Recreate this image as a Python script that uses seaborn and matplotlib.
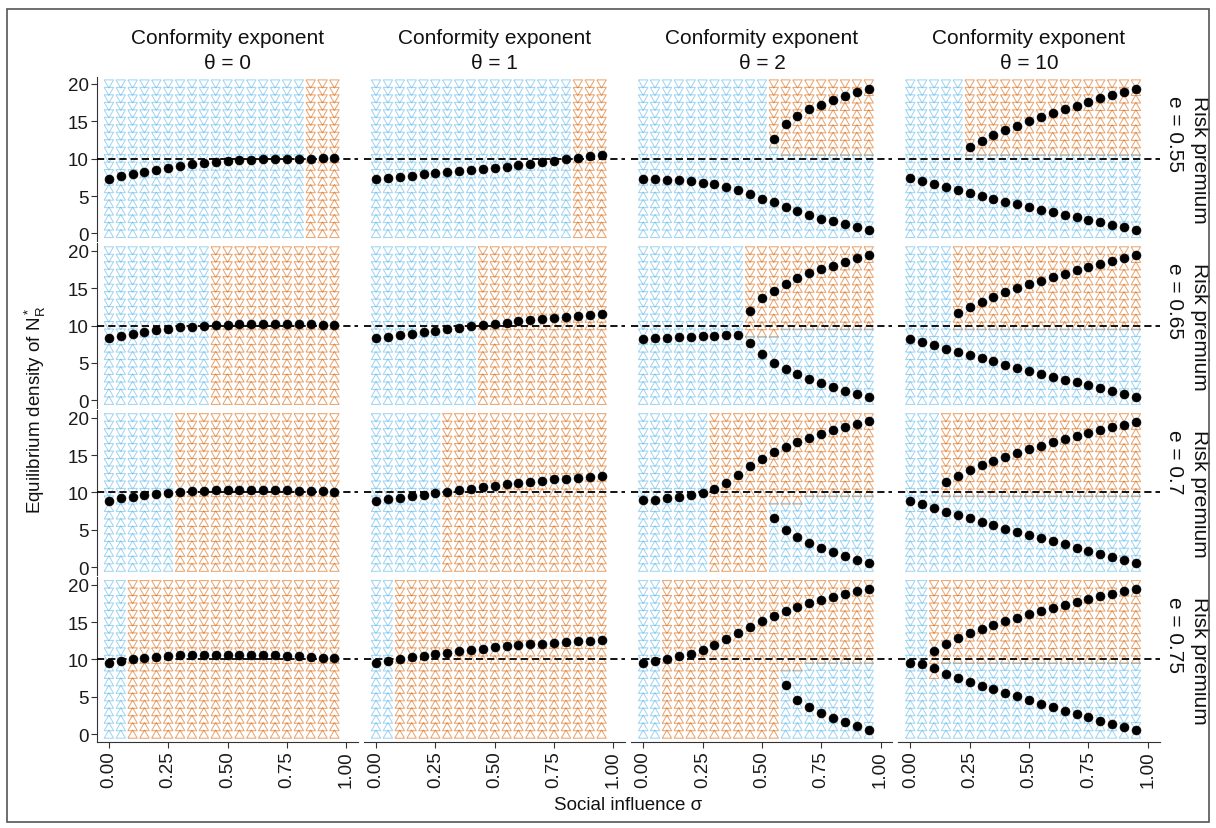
import numpy as np
import pandas as pd
import matplotlib
matplotlib.use('Agg')
import matplotlib.pyplot as plt
import seaborn as sns
from matplotlib.patches import Rectangle

# facets
thetas = [0, 1, 2, 10]
premiums = [0.55, 0.65, 0.7, 0.75]

# grid of the phase plot
sigmas = [0.00, 0.05, 0.10, 0.15, 0.20, 0.25, 0.30, 0.35, 0.40, 0.45,
          0.50, 0.55, 0.60, 0.65, 0.70, 0.75, 0.80, 0.85, 0.90, 0.95]
density_grid = list(range(0, 21))

x_ticks = [0, 0.25, 0.5, 0.75, 1.0]
x_tick_labels = ['0.00', '0.25', '0.50', '0.75', '1.00']
y_ticks = [0, 5, 10, 15, 20]
neutral_level = 10

NA = None

# stable equilibria (branch a = curve starting at sigma 0,
# branch b = second branch that appears), cut = unstable point between them
# theta = 0
eq_t0_e55 = [7.33, 7.69, 8.0, 8.27, 8.49, 8.71, 8.98, 9.24, 9.42, 9.56,
             9.69, 9.78, 9.86, 9.91, 9.95, 9.97, 9.99, 10.02, 10.03, 10.03]
eq_t0_e65 = [8.3, 8.6, 8.9, 9.2, 9.4, 9.6, 9.75, 9.85, 9.95, 10.05,
             10.1, 10.15, 10.2, 10.22, 10.22, 10.2, 10.18, 10.15, 10.1, 10.05]
eq_t0_e70 = [8.9, 9.2, 9.45, 9.65, 9.8, 9.95, 10.05, 10.15, 10.25, 10.3,
             10.35, 10.38, 10.38, 10.36, 10.34, 10.3, 10.25, 10.2, 10.15, 10.1]
eq_t0_e75 = [9.55, 9.8, 10.02, 10.2, 10.35, 10.45, 10.55, 10.6, 10.65, 10.65,
             10.65, 10.65, 10.62, 10.6, 10.55, 10.5, 10.42, 10.33, 10.22, 10.12]

# theta = 1
eq_t1_e55 = [7.35, 7.45, 7.6, 7.75, 7.9, 8.05, 8.2, 8.35, 8.5, 8.65,
             8.8, 8.95, 9.1, 9.3, 9.5, 9.7, 9.9, 10.1, 10.3, 10.45]
eq_t1_e65 = [8.3, 8.5, 8.7, 8.9, 9.1, 9.3, 9.5, 9.7, 9.9, 10.05,
             10.2, 10.4, 10.55, 10.7, 10.85, 11.0, 11.15, 11.3, 11.4, 11.5]
eq_t1_e70 = [8.9, 9.1, 9.3, 9.5, 9.7, 9.9, 10.1, 10.3, 10.5, 10.7,
             10.9, 11.1, 11.3, 11.45, 11.6, 11.75, 11.85, 11.95, 12.05, 12.15]
eq_t1_e75 = [9.55, 9.8, 10.05, 10.3, 10.5, 10.7, 10.9, 11.1, 11.3, 11.45,
             11.6, 11.75, 11.9, 12.0, 12.1, 12.2, 12.3, 12.4, 12.5, 12.6]

# theta = 2
eq_t2_e55 = [7.33, 7.25, 7.17, 7.1, 7.0, 6.8, 6.58, 6.22, 5.75, 5.25,
             4.65, 4.15, 3.5, 3.0, 2.5, 2.0, 1.6, 1.2, 0.8, 0.5]
eqb_t2_e55 = [NA, NA, NA, NA, NA, NA, NA, NA, NA, NA,
              NA, 12.67, 14.67, 15.73, 16.62, 17.2, 17.87, 18.4, 18.9, 19.38]
cut_t2_e55 = [NA] * 11 + [11.5] + [10.5] * 8

eq_t2_e65 = [8.18, 8.3, 8.35, 8.41, 8.47, 8.58, 8.64, 8.69, 8.75, 7.61,
             6.14, 5.06, 4.26, 3.47, 2.9, 2.33, 1.76, 1.31, 0.91, 0.45]
eqb_t2_e65 = [NA, NA, NA, NA, NA, NA, NA, NA, NA, 11.99,
              13.64, 14.66, 15.63, 16.31, 16.99, 17.56, 18.01, 18.52, 18.98, 19.38]
cut_t2_e65 = [NA] * 9 + [8.5] * 3 + [9.5] * 8

eq_t2_e70 = [8.93, 9.02, 9.24, 9.42, 9.69, 9.96, 10.49, 11.24, 12.4, 13.56,
             14.53, 15.38, 16.09, 16.76, 17.29, 17.87, 18.31, 18.76, 19.16, 19.51]
eqb_t2_e70 = [NA, NA, NA, NA, NA, NA, NA, NA, NA, NA,
              NA, 6.58, 4.98, 4.04, 3.24, 2.58, 2.0, 1.47, 1.02, 0.62]
cut_t2_e70 = [NA] * 11 + [8.5] * 3 + [9.5] * 6

eq_t2_e75 = [9.55, 9.77, 10.06, 10.4, 10.74, 11.31, 11.99, 12.73, 13.58, 14.38,
             15.17, 15.85, 16.48, 16.99, 17.5, 18.01, 18.41, 18.81, 19.15, 19.43]
eqb_t2_e75 = [NA, NA, NA, NA, NA, NA, NA, NA, NA, NA,
              NA, NA, 6.59, 4.6, 3.58, 2.84, 2.16, 1.59, 1.08, 0.57]
cut_t2_e75 = [NA] * 12 + [8.5] * 2 + [9.5] * 6

# theta = 10
eq_t10_e55 = [7.39, 6.99, 6.59, 6.19, 5.8, 5.4, 5.06, 4.66, 4.26, 3.92,
              3.58, 3.18, 2.84, 2.5, 2.16, 1.82, 1.48, 1.19, 0.85, 0.51]
eqb_t10_e55 = [NA, NA, NA, NA, NA, 11.53, 12.39, 13.13, 13.81, 14.43,
               14.99, 15.57, 16.08, 16.65, 17.1, 17.61, 18.07, 18.58, 18.98, 19.38]
cut_t10_e55 = [NA] * 5 + [10.5] * 15

eq_t10_e65 = [8.18, 7.78, 7.39, 6.93, 6.48, 6.02, 5.63, 5.23, 4.77, 4.38,
              3.98, 3.58, 3.18, 2.78, 2.44, 2.05, 1.65, 1.31, 0.91, 0.51]
eqb_t10_e65 = [NA, NA, NA, NA, 11.65, 12.44, 13.18, 13.81, 14.43, 15.0,
               15.51, 15.97, 16.48, 16.93, 17.39, 17.84, 18.24, 18.64, 18.98, 19.38]
cut_t10_e65 = [NA] * 4 + [9.5] * 16

eq_t10_e70 = [8.86, 8.41, 7.95, 7.44, 6.99, 6.53, 6.08, 5.63, 5.17, 4.72,
              4.32, 3.86, 3.47, 3.07, 2.61, 2.22, 1.76, 1.42, 0.97, 0.51]
eqb_t10_e70 = [NA, NA, NA, 11.36, 12.27, 12.95, 13.64, 14.2, 14.77, 15.28,
               15.8, 16.25, 16.7, 17.1, 17.56, 17.95, 18.35, 18.75, 19.09, 19.43]
cut_t10_e70 = [NA] * 3 + [9.5] * 17

eq_t10_e75 = [9.56, 9.33, 8.8, 8.09, 7.56, 7.02, 6.49, 6.0, 5.51, 5.07,
              4.58, 4.09, 3.64, 3.16, 2.71, 2.27, 1.82, 1.42, 0.98, 0.49]
eqb_t10_e75 = [NA, NA, 11.16, 12.0, 12.8, 13.51, 14.13, 14.58, 15.11, 15.56,
               16.04, 16.53, 16.89, 17.33, 17.73, 18.09, 18.44, 18.8, 19.16, 19.42]
cut_t10_e75 = [NA] * 2 + [7.5] + [9.5] * 17

panels = {
    (0, 0.55): (eq_t0_e55, None, None), (0, 0.65): (eq_t0_e65, None, None),
    (0, 0.7): (eq_t0_e70, None, None), (0, 0.75): (eq_t0_e75, None, None),
    (1, 0.55): (eq_t1_e55, None, None), (1, 0.65): (eq_t1_e65, None, None),
    (1, 0.7): (eq_t1_e70, None, None), (1, 0.75): (eq_t1_e75, None, None),
    (2, 0.55): (eq_t2_e55, eqb_t2_e55, cut_t2_e55),
    (2, 0.65): (eq_t2_e65, eqb_t2_e65, cut_t2_e65),
    (2, 0.7): (eq_t2_e70, eqb_t2_e70, cut_t2_e70),
    (2, 0.75): (eq_t2_e75, eqb_t2_e75, cut_t2_e75),
    (10, 0.55): (eq_t10_e55, eqb_t10_e55, cut_t10_e55),
    (10, 0.65): (eq_t10_e65, eqb_t10_e65, cut_t10_e65),
    (10, 0.7): (eq_t10_e70, eqb_t10_e70, cut_t10_e70),
    (10, 0.75): (eq_t10_e75, eqb_t10_e75, cut_t10_e75),
}

basin_colors = {'safe': '#56B4E9', 'risky': '#D55E00'}
# closed outlines so the hollow triangles get all three sides
up_tri = [(-1, -0.866), (1, -0.866), (0, 0.866), (-1, -0.866)]
down_tri = [(-1, 0.866), (1, 0.866), (0, -0.866), (-1, 0.866)]

# build the flow field (direction + basin) and the equilibrium points
tri_rows, dot_rows = [], []
for (theta, e), (eq_a, eq_b, cut) in panels.items():
    for i, s in enumerate(sigmas):
        stable = [eq_a[i]]
        if eq_b is not None and eq_b[i] is not None:
            stable.append(eq_b[i])
        for v in stable:
            dot_rows.append({'theta': theta, 'e': e, 'sigma': s, 'density': v})
        for n in density_grid:
            if len(stable) == 1:
                target = stable[0]
            else:
                target = max(stable) if n > cut[i] else min(stable)
            tri_rows.append({
                'theta': theta, 'e': e, 'sigma': s, 'density': n,
                'direction': 'up' if n < target else 'down',
                'basin': 'risky' if target > neutral_level else 'safe',
            })
tri_df = pd.DataFrame(tri_rows)
dot_df = pd.DataFrame(dot_rows)

sns.set_theme(style='ticks')
plt.rcParams['font.family'] = ['Liberation Sans', 'DejaVu Sans']
plt.rcParams['mathtext.fontset'] = 'custom'
plt.rcParams['mathtext.rm'] = 'Liberation Sans'
plt.rcParams['mathtext.it'] = 'Liberation Sans:italic'
plt.rcParams['axes.titlepad'] = 6

g = sns.FacetGrid(tri_df, row='e', col='theta', row_order=premiums, col_order=thetas,
                  margin_titles=True, sharex=True, sharey=True, height=2, aspect=1.6)
g.figure.set_size_inches(12.16, 8.29)

for (e, theta), ax in g.axes_dict.items():
    field = tri_df[(tri_df['theta'] == theta) & (tri_df['e'] == e)]
    for direction, marker in [('up', up_tri), ('down', down_tri)]:
        sub = field[field['direction'] == direction]
        sns.scatterplot(data=sub, x='sigma', y='density', hue='basin',
                        palette=basin_colors, marker=marker, s=46, alpha=0.55,
                        linewidth=0.75, legend=False, ax=ax)
        coll = ax.collections[-1]
        coll.set_edgecolor(coll.get_facecolor())
        coll.set_facecolor('none')
    ax.axhline(neutral_level, color='black', lw=1.3, dashes=(4, 2.2), zorder=3)
    pts = dot_df[(dot_df['theta'] == theta) & (dot_df['e'] == e)]
    sns.scatterplot(data=pts, x='sigma', y='density', color='black', s=42,
                    edgecolor='black', linewidth=0.4, zorder=4, legend=False, ax=ax)

g.set(xlim=(-0.05, 1.05), ylim=(-1, 21), xticks=x_ticks, yticks=y_ticks)
g.set_axis_labels('', '')
g.set_titles(col_template='Conformity exponent\nθ = {col_name}',
             row_template='Risk premium\ne = {row_name}', size=15,
             color='#111111', linespacing=1.4)

n_rows, n_cols = g.axes.shape
for i in range(n_rows):
    for j in range(n_cols):
        ax = g.axes[i, j]
        for sp in ax.spines.values():
            sp.set_linewidth(0.8)
            sp.set_color('#333333')
        ax.tick_params(axis='both', length=4, width=0.8, color='#333333',
                       labelsize=13.5, labelcolor='#1a1a1a', pad=2)
        if j > 0:
            ax.spines['left'].set_visible(False)
            ax.tick_params(axis='y', length=0)
        if i < n_rows - 1:
            ax.spines['bottom'].set_visible(False)
            ax.tick_params(axis='x', length=0)
        else:
            ax.set_xticks(x_ticks)
            ax.set_xticklabels(x_tick_labels, rotation=90)

g.figure.subplots_adjust(left=97 / 1216, right=1159.6 / 1216,
                         top=1 - 77.5 / 829, bottom=1 - 742.6 / 829,
                         wspace=0.023, hspace=0.015)

fig = g.figure
fig.text(628 / 1216, 1 - 806 / 829, 'Social influence σ', ha='center', va='center',
         fontsize=13.5, color='#111111')
fig.text(35 / 1216, 1 - 410 / 829, r'Equilibrium density of $\mathregular{N_R^*}$',
         ha='center', va='center', rotation=90, fontsize=13.5, color='#111111')
fig.patches.append(Rectangle((7 / 1216, 6 / 829), 1202 / 1216, 813 / 829,
                             transform=fig.transFigure, fill=False,
                             edgecolor='#555555', lw=1.2))

fig.savefig('out.png', dpi=100)
